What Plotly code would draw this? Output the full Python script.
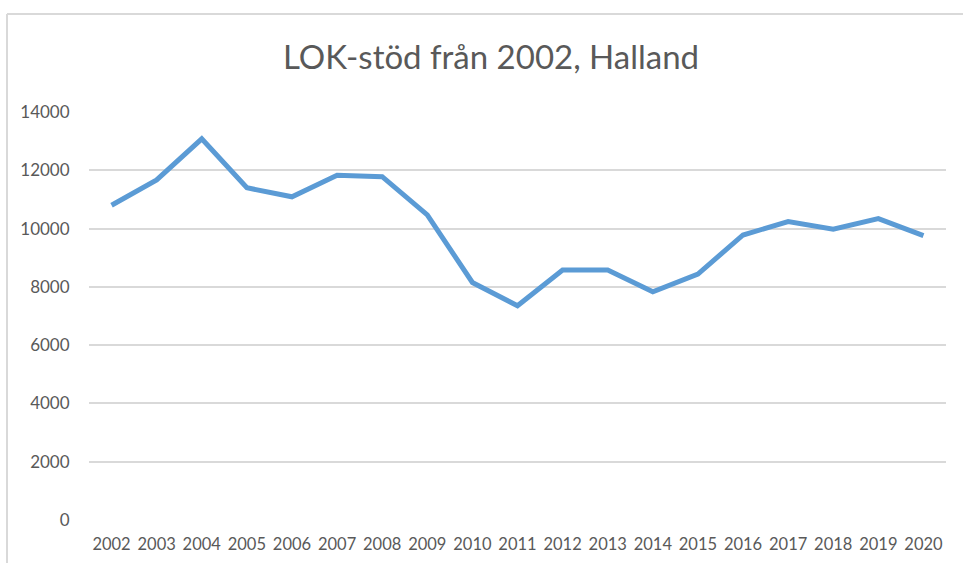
import plotly.graph_objects as go

years = [str(y) for y in range(2002, 2021)]
values = [10800, 11670, 13080, 11400, 11090, 11830, 11780, 10470, 8150, 7350,
          8580, 8580, 7830, 8440, 9780, 10240, 9980, 10340, 9760]
y_ticks = [0, 2000, 4000, 6000, 8000, 10000, 12000, 14000]

title_text = "LOK-stöd från 2002, Halland"
line_color = "#5B9BD5"
text_color = "#595959"
grid_color = "#D9D9D9"

W, H = 963, 563
L, R, T, B = 89, 17, 112, 43
pw = W - L - R
ph = H - T - B

fig = go.Figure()
fig.add_trace(go.Scatter(
    x=years, y=values, mode="lines",
    line=dict(color=line_color, width=5, shape="linear"),
    hoverinfo="x+y", showlegend=False,
))

def px_x(p):
    return (p - L) / pw

def px_y(p):
    return (H - B - p) / ph

# outer chart border (light grey), left and top edges visible
fig.add_shape(type="line", xref="paper", yref="paper",
              x0=px_x(7), x1=px_x(970), y0=px_y(14), y1=px_y(14),
              line=dict(color=grid_color, width=2))
fig.add_shape(type="line", xref="paper", yref="paper",
              x0=px_x(7), x1=px_x(7), y0=px_y(14), y1=px_y(570),
              line=dict(color=grid_color, width=2))

fig.update_layout(
    width=W, height=H, autosize=False,
    margin=dict(l=L, r=R, t=T, b=B, pad=0, autoexpand=False),
    paper_bgcolor="white", plot_bgcolor="white",
    title=dict(text=title_text, x=491 / W, xref="container", xanchor="center",
               y=1 - 57 / H, yanchor="middle",
               font=dict(family="Lato", size=33, color=text_color)),
    font=dict(family="Lato", color=text_color),
    xaxis=dict(
        type="category", range=[-0.5, len(years) - 0.5],
        showgrid=False, zeroline=False, showline=False, automargin=False,
        ticks="outside", ticklen=9, tickcolor="rgba(0,0,0,0)",
        tickfont=dict(family="Lato", size=16.5, color=text_color),
    ),
    yaxis=dict(
        range=[0, 14000], tickvals=y_ticks,
        ticktext=[str(v) for v in y_ticks],
        showgrid=True, gridcolor=grid_color, gridwidth=1.5,
        zeroline=False, showline=False, automargin=False,
        ticks="outside", ticklen=15, tickcolor="rgba(0,0,0,0)",
        tickfont=dict(family="Lato", size=17, color=text_color),
    ),
)

fig.write_html("out.html", config={"displayModeBar": False},
               post_script="document.body.style.margin='0';document.body.style.padding='0';")
